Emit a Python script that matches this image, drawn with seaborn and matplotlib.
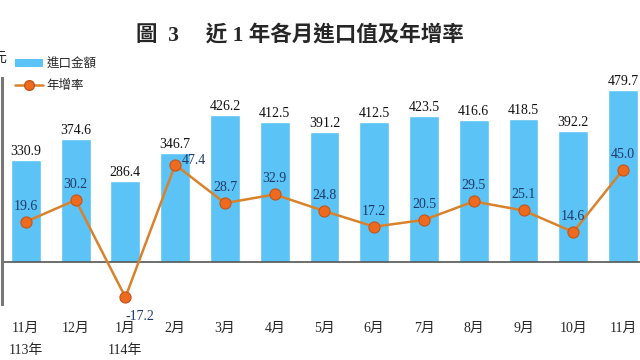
import matplotlib
matplotlib.use('Agg')
import matplotlib.pyplot as plt
from matplotlib.patches import Patch
from matplotlib.lines import Line2D
import seaborn as sns
import numpy as np
import pandas as pd

sns.set_theme(style='white')
plt.rcParams['font.family'] = ['Liberation Serif', 'Noto Sans CJK TC']

months = ['11月\n113年', '12月', '1月\n114年', '2月', '3月', '4月', '5月',
          '6月', '7月', '8月', '9月', '10月', '11月']
imports = [330.9, 374.6, 286.4, 346.7, 426.2, 412.5, 391.2,
           412.5, 423.5, 416.6, 418.5, 392.2, 479.7]
growth = [19.6, 30.2, -17.2, 47.4, 28.7, 32.9, 24.8,
          17.2, 20.5, 29.5, 25.1, 14.6, 45.0]

bar_color = '#5BC3F5'
line_color = '#D9822B'
dot_color = '#EE6A1E'
rate_text = '#1F3A68'

df = pd.DataFrame({'month': months, 'imports': imports, 'growth': growth})
df['pos'] = np.arange(len(df))

W, H = 640, 360
fig = plt.figure(figsize=(6.4, 3.6), dpi=100)

def frac(x0, y0, x1, y1):
    # pixel box (top-left origin) -> figure fraction
    return [x0 / W, 1 - y1 / H, (x1 - x0) / W, (y1 - y0) / H]

ax_bar = fig.add_axes(frac(2, 80, 640, 262))
ax_rate = fig.add_axes(frac(2, 78, 640, 304))
ax_rate.patch.set_alpha(0)

sns.barplot(data=df, x='month', y='imports', color=bar_color, width=0.6,
            saturation=1, ax=ax_bar)
ax_bar.set_ylim(114.4, 500.9)
ax_bar.set_xlim(-0.48, 12.34)
ax_bar.bar_label(ax_bar.containers[0], fmt='%.1f', padding=1.5, fontsize=10,
                 color='#111111')
for s in ['top', 'left', 'right']:
    ax_bar.spines[s].set_visible(False)
ax_bar.spines['bottom'].set_color('#555555')
ax_bar.spines['bottom'].set_linewidth(1.2)
ax_bar.set_xticks([])
ax_bar.set_yticks([])
ax_bar.set_xlabel('')
ax_bar.set_ylabel('')

sns.lineplot(data=df, x='pos', y='growth', color=line_color, linewidth=1.8,
             marker='o', markersize=8, markerfacecolor=dot_color,
             markeredgecolor='#C4551A', markeredgewidth=0.8, ax=ax_rate)
# rate axis: 0 sits on the bar baseline
ax_rate.set_ylim(-20.5, 89.7)
ax_rate.set_xlim(-0.48, 12.34)
for s in ['top', 'bottom', 'right']:
    ax_rate.spines[s].set_visible(False)
ax_rate.spines['left'].set_color('#777777')
ax_rate.spines['left'].set_linewidth(2.2)
ax_rate.set_yticks([])
ax_rate.set_xticks(df['pos'])
ax_rate.set_xticklabels(months, fontsize=10, linespacing=1.85)
ax_rate.tick_params(axis='x', length=0, pad=13)
ax_rate.set_xlabel('')
ax_rate.set_ylabel('')

for i, (x, v) in enumerate(zip(df['pos'], growth)):
    if i == 3:
        off, ha, va = (5, 3), 'left', 'center'
    elif v < 0:
        off, ha, va = (0, -9), 'left', 'top'
    else:
        off, ha, va = (0, 6.5), 'center', 'bottom'
    ax_rate.annotate(f'{v:.1f}', (x, v), xytext=off, textcoords='offset points',
                     ha=ha, va=va, fontsize=10, color=rate_text)

handles = [Patch(facecolor=bar_color, edgecolor='none'),
           Line2D([], [], color=line_color, linewidth=1.8, marker='o',
                  markersize=7, markerfacecolor=dot_color,
                  markeredgecolor='#C4551A')]
fig.legend(handles, ['進口金額', '年增率'], loc='upper left',
           bbox_to_anchor=(4 / W, 1 - 47 / H), frameon=False, fontsize=9,
           handlelength=2.2, handletextpad=0.3, labelspacing=0.75)

fig.text(300 / W, 1 - 35 / H, '圖  3　 近 1 年各月進口值及年增率', ha='center',
         va='center', fontsize=15.5, fontweight='bold')
fig.text(-8 / W, 1 - 58 / H, '元', ha='left', va='center', fontsize=10)

fig.savefig('out.png', dpi=100)
